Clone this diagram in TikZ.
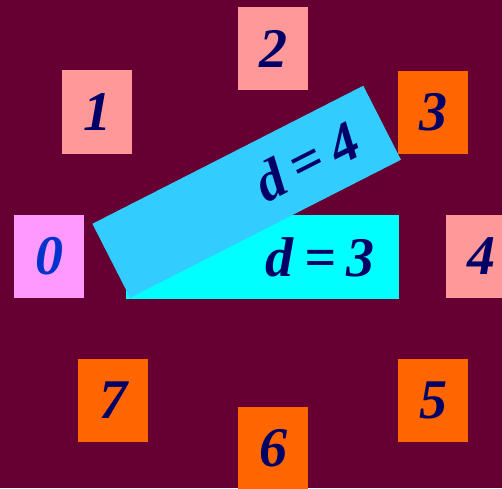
\documentclass[tikz,border=0pt]{standalone}
\usepackage{fontspec}
\setmainfont{Liberation Serif}
\usepackage{tikz}
\usetikzlibrary{positioning}
\definecolor{bgred}{HTML}{660033}
\definecolor{boxpink}{HTML}{FF9999}
\definecolor{boxorange}{HTML}{FF6600}
\definecolor{boxmagenta}{HTML}{FF99FF}
\definecolor{bandcyan}{HTML}{00FFFF}
\definecolor{bandblue}{HTML}{33CCFF}
\definecolor{navy}{HTML}{000066}
\definecolor{digitblue}{HTML}{0033CC}

\begin{document}
\begin{tikzpicture}[x=1pt, y=1pt,
    digit/.style={minimum width=70pt, minimum height=83pt, inner sep=0pt,
        text=navy, font=\fontsize{56}{56}\selectfont\bfseries\itshape},
    band/.style={minimum height=84pt, inner ysep=0pt, inner xsep=0pt, align=right,
        text=navy, font=\fontsize{56}{56}\selectfont\bfseries\itshape}]
        % Background
        \fill[bgred] (0,0) rectangle (502,488);
        \useasboundingbox (0,0) rectangle (502,488);
        % Boxes round the circle
        \node[digit, fill=boxmagenta, text=digitblue] (n0) at (49,231.5) {0};
        \node[digit, fill=boxpink] (n1) at (97,376) {1};
        \node[digit, fill=boxpink] (n2) at (273,439.5) {2};
        \node[digit, fill=boxorange] (n3) at (433,375.5) {3};
        \node[digit, fill=boxpink] (n4) at (481,231.5) {4};
        \node[digit, fill=boxorange] (n5) at (433,87.5) {5};
        \node[digit, fill=boxorange] (n6) at (273,39.5) {6};
        \node[digit, fill=boxorange] (n7) at (113,87.5) {7};
        % Band for d = 3
        \node[band, fill=bandcyan, text width=273pt, minimum width=273pt] (d3) at (262.5,231)
            {d\kern11pt=\kern11pt3\hspace*{24pt}};
        % Band for d = 4, turned about its lower left corner
        \node[band, fill=bandblue, text width=304pt, minimum width=304pt, minimum height=83pt,
            anchor=south west, rotate=27] (d4) at (130,190) {d\kern11pt=\kern11pt4\hspace*{30pt}};
    \end{tikzpicture}
\end{document}
